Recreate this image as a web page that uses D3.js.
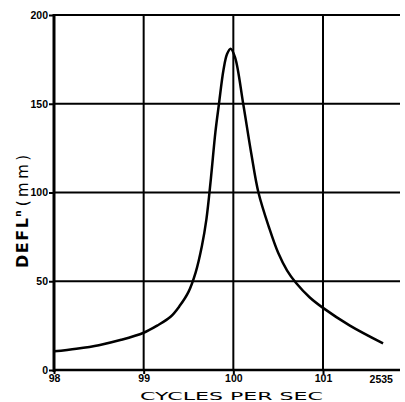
<!DOCTYPE html>
<html>
<head>
<meta charset="utf-8">
<script src="https://cdn.jsdelivr.net/npm/d3@7"></script>
<style>
  body { margin: 0; background: #fff; }
  svg { display: block; }
  .tick-label { font-family: 'Liberation Sans', sans-serif; font-weight: bold; font-size: 10.5px; fill: #000; }
</style>
</head>
<body>
<div id="app"></div>
<script>
// resonance curve
const freq = [98.0, 98.25, 98.5, 98.75, 99.0, 99.15, 99.3, 99.4, 99.5, 99.58, 99.65, 99.7, 99.75, 99.8, 99.84, 99.89, 99.93, 99.97, 100.02, 100.11, 100.2, 100.28, 100.4, 100.5, 100.6, 100.7, 100.85, 101.0, 101.3, 101.67]
const defl = [10.5, 12, 14, 17, 21, 25, 30, 36, 44, 55, 70, 85, 108, 134, 150, 169, 178, 181, 176, 150, 122, 100, 80, 66, 56, 49, 41, 35, 25, 15]

const xTicks = [98, 99, 100, 101]
const yTicks = [0, 50, 100, 150, 200]
const figNo = '2535'

const width = 405
const height = 402

const x = d3.scaleLinear().domain([98, 101]).range([54, 323])
const y = d3.scaleLinear().domain([0, 200]).range([370, 15])
const xMax = x.invert(400)

const svg = d3.select('#app')
  .append('svg')
  .attr('width', width)
  .attr('height', height)

// grid
svg.append('g')
  .selectAll('line')
  .data(yTicks.filter(d => d > 0))
  .join('line')
  .attr('x1', x(98)).attr('x2', x(xMax))
  .attr('y1', d => y(d)).attr('y2', d => y(d))
  .attr('stroke', '#000').attr('stroke-width', 2)

svg.append('g')
  .selectAll('line')
  .data(xTicks.filter(d => d > 98))
  .join('line')
  .attr('x1', d => x(d)).attr('x2', d => x(d))
  .attr('y1', y(0)).attr('y2', y(200))
  .attr('stroke', '#000').attr('stroke-width', 2)

// axes
const xAxis = svg.append('g')
  .attr('transform', `translate(0,${y(0)})`)
  .call(d3.axisBottom(x).tickValues(xTicks).tickSize(4).tickFormat(d3.format('d')))
xAxis.select('.domain').remove()
xAxis.selectAll('.tick line').attr('stroke-width', 2)
xAxis.selectAll('.tick text').attr('class', 'tick-label').attr('dy', '0.45em')

svg.append('line')
  .attr('x1', x(98)).attr('x2', x(xMax))
  .attr('y1', y(0)).attr('y2', y(0))
  .attr('stroke', '#000').attr('stroke-width', 2.5)

const yAxis = svg.append('g')
  .attr('transform', `translate(${x(98)},0)`)
  .call(d3.axisLeft(y).tickValues(yTicks).tickSize(5))
yAxis.select('.domain').remove()
yAxis.selectAll('.tick line').attr('stroke-width', 2)
yAxis.selectAll('.tick text').attr('class', 'tick-label').attr('x', -6)

svg.append('line')
  .attr('x1', x(98)).attr('x2', x(98))
  .attr('y1', y(0) + 2).attr('y2', y(200) - 1)
  .attr('stroke', '#000').attr('stroke-width', 3)

// curve
const line = d3.line()
  .x((d, i) => x(freq[i]))
  .y(d => y(d))
  .curve(d3.curveCatmullRom.alpha(0.5))

svg.append('path')
  .datum(defl)
  .attr('d', line)
  .attr('fill', 'none')
  .attr('stroke', '#000')
  .attr('stroke-width', 2.5)

// figure number
svg.append('text')
  .attr('class', 'tick-label')
  .attr('x', x(101.65))
  .attr('y', y(0) + 13)
  .attr('text-anchor', 'middle')
  .attr('font-size', 9)
  .text(figNo)

// axis titles
svg.append('text')
  .attr('x', 140)
  .attr('y', 400)
  .attr('textLength', 183)
  .attr('lengthAdjust', 'spacingAndGlyphs')
  .style('font-family', "'DejaVu Sans', sans-serif")
  .style('font-size', '11px')
  .text('CYCLES PER SEC')

const yTitle = svg.append('text')
  .attr('transform', 'translate(28,268) rotate(-90)')
  .style('font-family', "'DejaVu Sans', sans-serif")
yTitle.append('tspan')
  .style('font-weight', 'bold')
  .style('font-size', '16px')
  .attr('letter-spacing', 1.5)
  .text('DEFL')
yTitle.append('tspan')
  .style('font-weight', 'bold')
  .style('font-size', '9px')
  .attr('dy', -7)
  .text('n')
yTitle.append('tspan')
  .style('font-size', '15px')
  .attr('dy', 7)
  .attr('dx', 4)
  .attr('letter-spacing', 3.5)
  .text('(mm)')
</script>
</body>
</html>
